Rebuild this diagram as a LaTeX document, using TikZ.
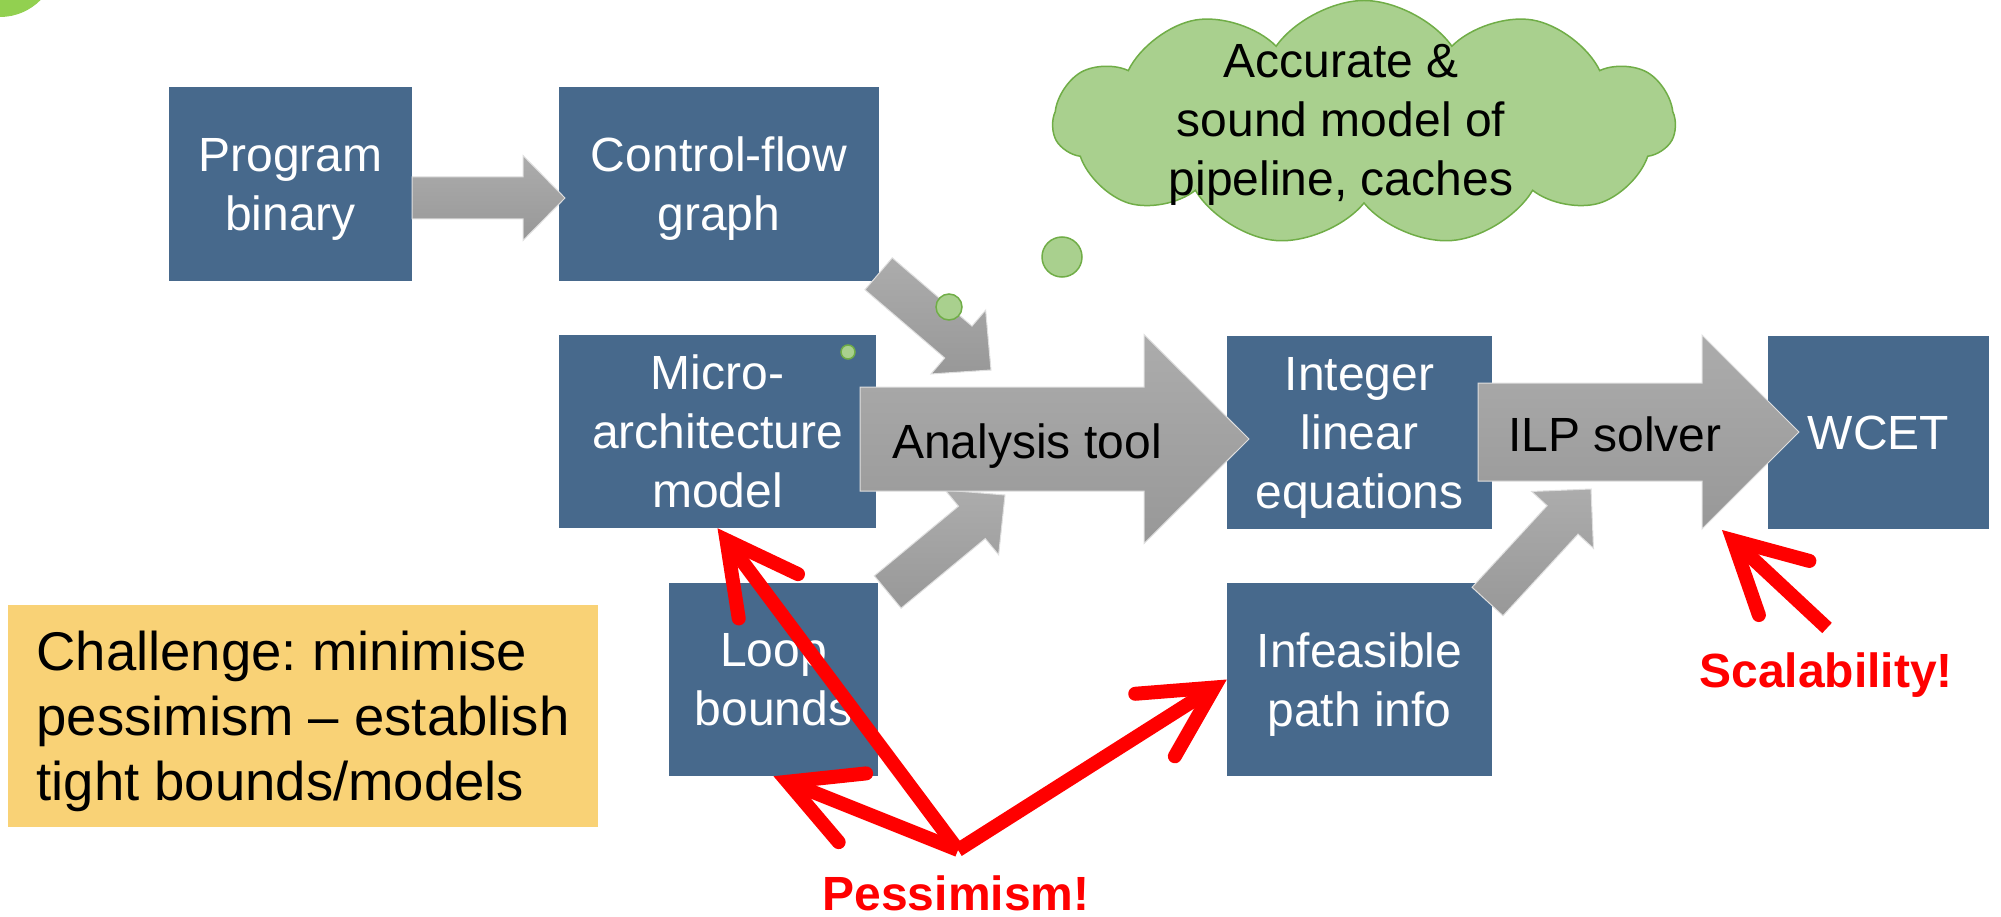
\documentclass[tikz,border=0pt]{standalone}
\usepackage{fontspec}
\setmainfont{Liberation Sans}
\usepackage{tikz}
\usetikzlibrary{calc}
\usetikzlibrary{arrows.meta}
\usetikzlibrary{shapes.symbols}

\definecolor{boxblue}{RGB}{71,105,140}
\definecolor{arrowtop}{RGB}{172,172,172}
\definecolor{arrowbot}{RGB}{152,152,152}
\definecolor{cloudfill}{RGB}{169,208,142}
\definecolor{cloudline}{RGB}{112,173,71}
\definecolor{notefill}{RGB}{249,210,118}
\definecolor{bulletgreen}{RGB}{146,208,80}

\frenchspacing

% fat arrow: from, to, half shaft, half head, head length
\newcommand{\fatarrow}[5]{%
  \coordinate (neck) at ($(#2)!#5!(#1)$);
  \path [grayarrow] ($(#1)!#3!90:(#2)$) -- ($(neck)!#3!-90:(#1)$) -- ($(neck)!#4!-90:(#1)$) -- (#2)
    -- ($(neck)!#4!90:(#1)$) -- ($(neck)!#3!90:(#1)$) -- ($(#1)!#3!-90:(#2)$) -- cycle;
}

\begin{document}
\begin{tikzpicture}
    [
    x=1pt, y=-1pt,
    box/.style={rectangle,fill=boxblue,text=white,align=center,inner sep=0pt,text depth=0pt,minimum height=193pt,font=\fontsize{48}{59}\selectfont},
    grayarrow/.style={top color=arrowtop,bottom color=arrowbot,draw=white!75!gray,line width=1pt},
    redarrow/.style={draw=red,line width=14pt,-{Straight Barb[length=70pt,width=74pt,line cap=round,line join=miter]}},
    redtext/.style={text=red,inner sep=0pt,font=\fontsize{48}{58}\selectfont\bfseries},
    bubble/.style={circle,fill=cloudfill,draw=cloudline,line width=1.5pt,inner sep=0pt},
    ]
    \useasboundingbox (0,0) rectangle (2001,917);
    \begin{scope}
      \clip (0,0) rectangle (2001,917);
      \fill [bulletgreen] (0,-40) circle (57pt);
    \end{scope}

    \node (prog) at (290.5,184) [box, minimum width=243pt, minimum height=194pt] {Program\\binary};
    \node (cfg) at (719,184) [box, minimum width=320pt, minimum height=194pt] {Control-flow\\graph};
    \node (micro) at (717.5,431.5) [box, minimum width=317pt] {Micro-\\architecture\\model};
    \node (loop) at (773.5,679.5) [box, minimum width=209pt] {Loop\\bounds};
    \node (ilpeq) at (1359.5,432.5) [box, minimum width=265pt] {Integer\\linear\\equations};
    \node (infeas) at (1359.5,679.5) [box, minimum width=265pt] {Infeasible\\path info};
    \node (wcet) at (1878.5,432.5) [box, minimum width=221pt] {WCET};
    \node (challenge) at (303,716) [fill=notefill, minimum width=590pt, minimum height=222pt, inner sep=0pt, text depth=0pt, align=left, font=\fontsize{54.5}{65}\selectfont] {Challenge: minimise\\pessimism -- establish\\tight bounds/models};

    \coordinate (progout) at (412,198);
    \coordinate (cfgin) at (565,198);
    \coordinate (cfgout) at (878.6,273.8);
    \coordinate (toolin1) at (991,370);
    \coordinate (loopout) at (887.7,592);
    \coordinate (toolin2) at (1005,495);
    \coordinate (toolstart) at (860,439);
    \coordinate (toolend) at (1249,439);
    \coordinate (infout) at (1487.5,601.5);
    \coordinate (solverin) at (1591,489);
    \coordinate (solverstart) at (1478,432);
    \coordinate (solverend) at (1799,432);

    \fatarrow{progout}{cfgin}{21pt}{42.5pt}{42pt}
    \fatarrow{cfgout}{toolin1}{21pt}{42pt}{43pt}
    \fatarrow{loopout}{toolin2}{21pt}{42pt}{43pt}
    \fatarrow{infout}{solverin}{21pt}{42pt}{42pt}
    \fatarrow{toolstart}{toolend}{52pt}{104.5pt}{105pt}
    \fatarrow{solverstart}{solverend}{49pt}{97pt}{97pt}
    \node (tool) at (1027,458) [anchor=base, font=\fontsize{48}{58}\selectfont] {Analysis tool};
    \node (solver) at (1615,451) [anchor=base, font=\fontsize{48}{58}\selectfont] {ILP solver};

    \node (cloud) at (1364,123) [cloud, cloud puffs=11, cloud puff arc=110, aspect=2.67, minimum width=622pt, minimum height=245pt, fill=cloudfill, draw=cloudline, line width=1.5pt] {};
    \node (cloudtext) at (1341,119.5) [align=center, inner sep=0pt, text depth=0pt, font=\fontsize{48}{59}\selectfont] {Accurate \&\\sound model of\\pipeline, caches};
    \node (bubbleA) at (1062,257) [bubble, minimum size=40pt] {};
    \node (bubbleB) at (949,307) [bubble, minimum size=26pt] {};
    \node (bubbleC) at (848,352) [bubble, minimum size=14pt] {};

    \coordinate (pess) at (958,850);
    \coordinate (scaltail) at (1827,628);
    \coordinate (scaltip) at (1722,530);
    \draw [redarrow] (pess) -- (micro.south);
    \draw [redarrow] (pess) -- (loop.south);
    \draw [redarrow] (pess) -- (infeas.west);
    \draw [redarrow] (scaltail) -- (scaltip);
    \node (pesstext) at (956,910) [redtext, anchor=base] {Pessimism!};
    \node (scaltext) at (1826,687) [redtext, anchor=base] {Scalability!};
  \end{tikzpicture}
\end{document}
